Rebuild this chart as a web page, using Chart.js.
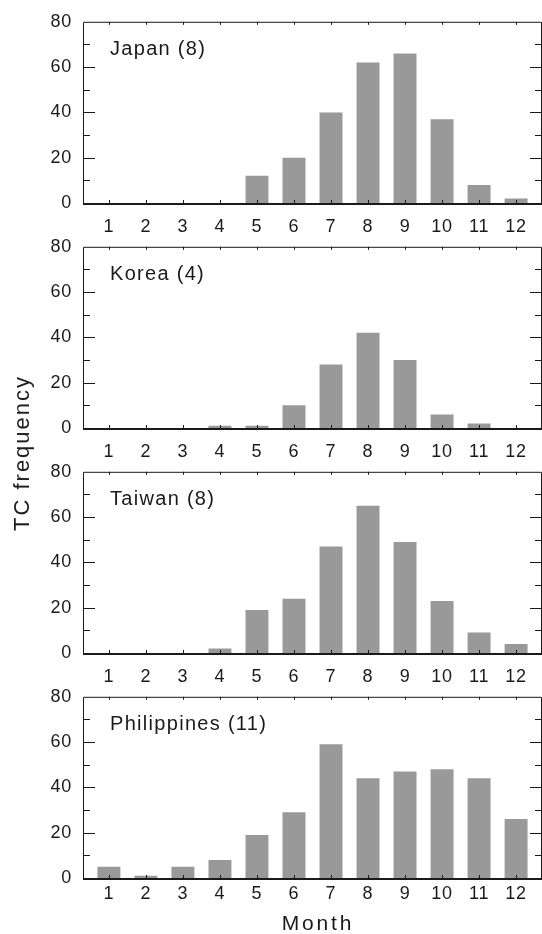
<!DOCTYPE html>
<html>
<head>
<meta charset="utf-8">
<script src="https://cdn.jsdelivr.net/npm/chart.js@4/dist/chart.umd.min.js"></script>
<style>
  body { margin: 0; background: #fff; }
  #wrap { position: relative; width: 542px; height: 934px; font-family: "Liberation Sans", Arial, sans-serif; color: #1a1a1a; }
  #wrap canvas { position: absolute; left: 0; }
  .ytitle { position: absolute; left: 22px; top: 453px; transform: translate(-50%, -50%) rotate(-90deg); font-size: 22px; letter-spacing: 2px; white-space: nowrap; }
  .xtitle { position: absolute; left: 318px; top: 923px; transform: translate(-50%, -50%); font-size: 21px; letter-spacing: 2.8px; white-space: nowrap; }
</style>
</head>
<body>
<div id="wrap">
  <canvas id="c0" width="542" height="240" style="top:0"></canvas>
  <canvas id="c1" width="542" height="240" style="top:225px"></canvas>
  <canvas id="c2" width="542" height="240" style="top:450px"></canvas>
  <canvas id="c3" width="542" height="259" style="top:675px"></canvas>
  <div class="ytitle">TC frequency</div>
  <div class="xtitle">Month</div>
</div>
<script>
// data
const months = [1, 2, 3, 4, 5, 6, 7, 8, 9, 10, 11, 12];
const japan = [0, 0, 0, 0, 12, 20, 40, 62, 66, 37, 8, 2];
const korea = [0, 0, 0, 1, 1, 10, 28, 42, 30, 6, 2, 0];
const taiwan = [0, 0, 0, 2, 19, 24, 47, 65, 49, 23, 9, 4];
const philippines = [5, 1, 5, 8, 19, 29, 59, 44, 47, 48, 44, 26];
const yTicks = [0, 20, 40, 60, 80];
const yMinor = [10, 30, 50, 70];
const panelTitles = ['Japan (8)', 'Korea (4)', 'Taiwan (8)', 'Philippines (11)'];

const TEXT = '#1a1a1a';
const BAR = '#999999';

// box round the plot, inward tick marks, panel name
const framePlugin = {
  id: 'frame',
  beforeDraw(chart) {
    chart.ctx.letterSpacing = '0.8px';
  },
  afterDatasetsDraw(chart, args, opts) {
    const ctx = chart.ctx;
    const a = chart.chartArea;
    const x = chart.scales.x, y = chart.scales.y;
    ctx.save();
    ctx.strokeStyle = TEXT;
    ctx.fillStyle = TEXT;
    ctx.lineWidth = 1;
    ctx.beginPath();
    yTicks.concat(yMinor).forEach(function (v) {
      if (v === 0 || v === 80) return;
      const py = Math.round(y.getPixelForValue(v)) + 0.5;
      const len = v % 20 === 0 ? 12 : 7;
      ctx.moveTo(a.left, py); ctx.lineTo(a.left + len, py);
      ctx.moveTo(a.right, py); ctx.lineTo(a.right - len, py);
    });
    months.forEach(function (m) {
      const px = Math.round(x.getPixelForValue(m)) + 0.5;
      ctx.moveTo(px, a.bottom); ctx.lineTo(px, a.bottom - 3);
      ctx.moveTo(px, a.top); ctx.lineTo(px, a.top + 3);
    });
    // top, left, right
    ctx.moveTo(a.left + 0.5, a.bottom); ctx.lineTo(a.left + 0.5, a.top + 0.5);
    ctx.lineTo(a.right - 0.5, a.top + 0.5); ctx.lineTo(a.right - 0.5, a.bottom);
    ctx.stroke();
    ctx.fillRect(a.left, a.bottom, a.right - a.left, 2);

    ctx.letterSpacing = '1.3px';
    ctx.font = '20px "Liberation Sans", Arial, sans-serif';
    ctx.textAlign = 'left';
    ctx.textBaseline = 'alphabetic';
    ctx.fillText(opts.title, 110, a.top + 33);
    ctx.restore();
  }
};

function makePanel(id, values, title, last) {
  const canvas = document.getElementById(id);
  const font = { family: '"Liberation Sans", Arial, sans-serif', size: 18 };
  return new Chart(canvas, {
    type: 'bar',
    data: {
      datasets: [{
        data: months.map(function (m, i) { return { x: m, y: values[i] }; }),
        backgroundColor: BAR,
        borderWidth: 0,
        categoryPercentage: 1,
        barPercentage: 0.62
      }]
    },
    options: {
      responsive: false,
      animation: false,
      devicePixelRatio: 1,
      layout: { padding: { top: 20, left: 0, right: 0, bottom: 0 } },
      plugins: {
        legend: { display: false },
        tooltip: { enabled: false },
        frame: { title: title }
      },
      scales: {
        x: {
          type: 'linear',
          offset: false,
          min: 0.3,
          max: 12.7,
          afterBuildTicks: function (s) { s.ticks = months.map(function (v) { return { value: v }; }); },
          afterFit: function (s) { s.height = canvas.height - 20 - 183; },
          grid: { display: false, drawTicks: false },
          border: { display: false },
          ticks: { color: TEXT, font: font, padding: last ? 5 : 13, maxRotation: 0, autoSkip: false }
        },
        y: {
          min: 0,
          max: 80,
          afterBuildTicks: function (s) { s.ticks = yTicks.map(function (v) { return { value: v }; }); },
          afterFit: function (s) { s.width = 83; },
          grid: { display: false, drawTicks: false },
          border: { display: false },
          ticks: { color: TEXT, font: font, padding: 11 }
        }
      }
    },
    plugins: [framePlugin]
  });
}

makePanel('c0', japan, panelTitles[0], false);
makePanel('c1', korea, panelTitles[1], false);
makePanel('c2', taiwan, panelTitles[2], false);
makePanel('c3', philippines, panelTitles[3], true);
</script>
</body>
</html>
